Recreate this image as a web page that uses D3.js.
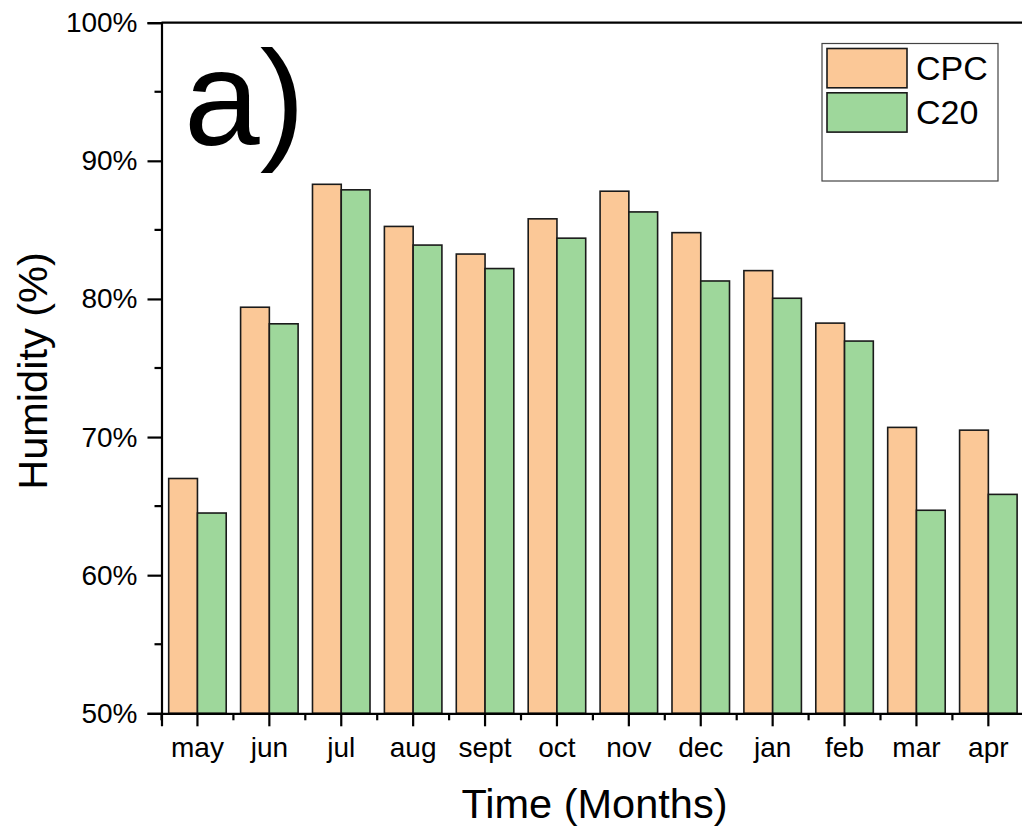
<html>
<script src='https://d3js.org/d3.v7.min.js'></script>
<style>
body {margin: 0; background: white;}
text {font-family: 'Liberation Sans', Arial, sans-serif; fill: black;}
</style>
<body>
<svg width=1022 height=828></svg>
<script>
var months = ["may","jun","jul","aug","sept","oct","nov","dec","jan","feb","mar","apr"];
var seriesNames = ["CPC","C20"];
var cpcValues = [67.0, 79.4, 88.3, 85.25, 83.25, 85.8, 87.8, 84.8, 82.05, 78.25, 70.7, 70.5];
var c20Values = [64.5, 78.2, 87.9, 83.9, 82.2, 84.4, 86.3, 81.3, 80.05, 76.95, 64.7, 65.85];
var yTicks = [50, 60, 70, 80, 90, 100];
var yMinorTicks = [55, 65, 75, 85, 95];
var colors = {"CPC": "#fbc897", "C20": "#9ed79b"};

function draw() {
	var svg = d3.select("svg");
	var plotLeft = 161.5, plotTop = 22.7, plotBottom = 713.3, plotRight = 1024.3;

	var x = d3.scaleBand().domain(months).range([plotLeft, plotRight]).paddingInner(0.2).paddingOuter(0.1);
	var xs = d3.scaleBand().domain(seriesNames).range([0, x.bandwidth()]);
	var y = d3.scaleLinear().domain([50, 100]).range([plotBottom, plotTop]);

	var data = months.map((m, i) => ({month: m, CPC: cpcValues[i], C20: c20Values[i]}));

	// bars
	var groups = svg.append("g").selectAll("g").data(data).enter().append("g")
		.attr("transform", d => "translate(" + x(d.month) + ",0)");
	groups.selectAll("rect").data(d => seriesNames.map(s => ({key: s, value: d[s]}))).enter().append("rect")
		.attr("x", d => xs(d.key))
		.attr("y", d => y(d.value))
		.attr("width", xs.bandwidth())
		.attr("height", d => plotBottom - y(d.value))
		.attr("fill", d => colors[d.key])
		.attr("stroke", "#1a1a1a")
		.attr("stroke-width", 1.6);

	// y axis
	var yAxis = svg.append("g").attr("transform", "translate(" + plotLeft + ",0)")
		.call(d3.axisLeft(y).tickValues(yTicks).tickFormat(d => d + "%").tickSize(14).tickPadding(10));
	yAxis.selectAll("text").style("font-size", "28px");
	yAxis.append("g").selectAll("line").data(yMinorTicks).enter().append("line")
		.attr("x1", -7).attr("x2", 0).attr("y1", d => y(d)).attr("y2", d => y(d)).attr("stroke", "black");

	// x axis
	var xAxis = svg.append("g").attr("transform", "translate(0," + plotBottom + ")")
		.call(d3.axisBottom(x).tickSize(13).tickPadding(11));
	xAxis.selectAll("text").style("font-size", "28px");
	xAxis.append("g").selectAll("line").data(d3.range(months.length + 1)).enter().append("line")
		.attr("x1", d => plotLeft + d * x.step()).attr("x2", d => plotLeft + d * x.step())
		.attr("y1", 0).attr("y2", 7).attr("stroke", "black");

	svg.selectAll(".domain").attr("stroke", "black").attr("stroke-width", 2.2);
	xAxis.selectAll("line").attr("stroke-width", 2.2);
	yAxis.selectAll("line").attr("stroke-width", 2.2);

	// top frame line
	svg.append("line").attr("x1", plotLeft).attr("x2", 1022).attr("y1", plotTop).attr("y2", plotTop)
		.attr("stroke", "black").attr("stroke-width", 2.2);

	// axis titles
	svg.append("text").attr("x", (462 + 727) / 2).attr("y", 818).attr("text-anchor", "middle")
		.style("font-size", "41.5px").text("Time (Months)");
	svg.append("text").attr("transform", "translate(47,371) rotate(-90)").attr("text-anchor", "middle")
		.style("font-size", "41.5px").text("Humidity (%)");

	// panel label
	svg.append("text").attr("x", 184).attr("y", 145).style("font-size", "136px").text("a)");

	// legend
	var legend = svg.append("g");
	legend.append("rect").attr("x", 822).attr("y", 43.5).attr("width", 176).attr("height", 137.5)
		.attr("fill", "white").attr("stroke", "#444").attr("stroke-width", 1.2);
	seriesNames.forEach((s, i) => {
		legend.append("rect").attr("x", 827).attr("y", 48.5 + i * 44.3).attr("width", 80).attr("height", 39.3)
			.attr("fill", colors[s]).attr("stroke", "#1a1a1a").attr("stroke-width", 1.6);
		legend.append("text").attr("x", 916).attr("y", 80 + i * 44.3).style("font-size", "34px").text(s);
	});
}
draw();
</script>
</body>
</html>
